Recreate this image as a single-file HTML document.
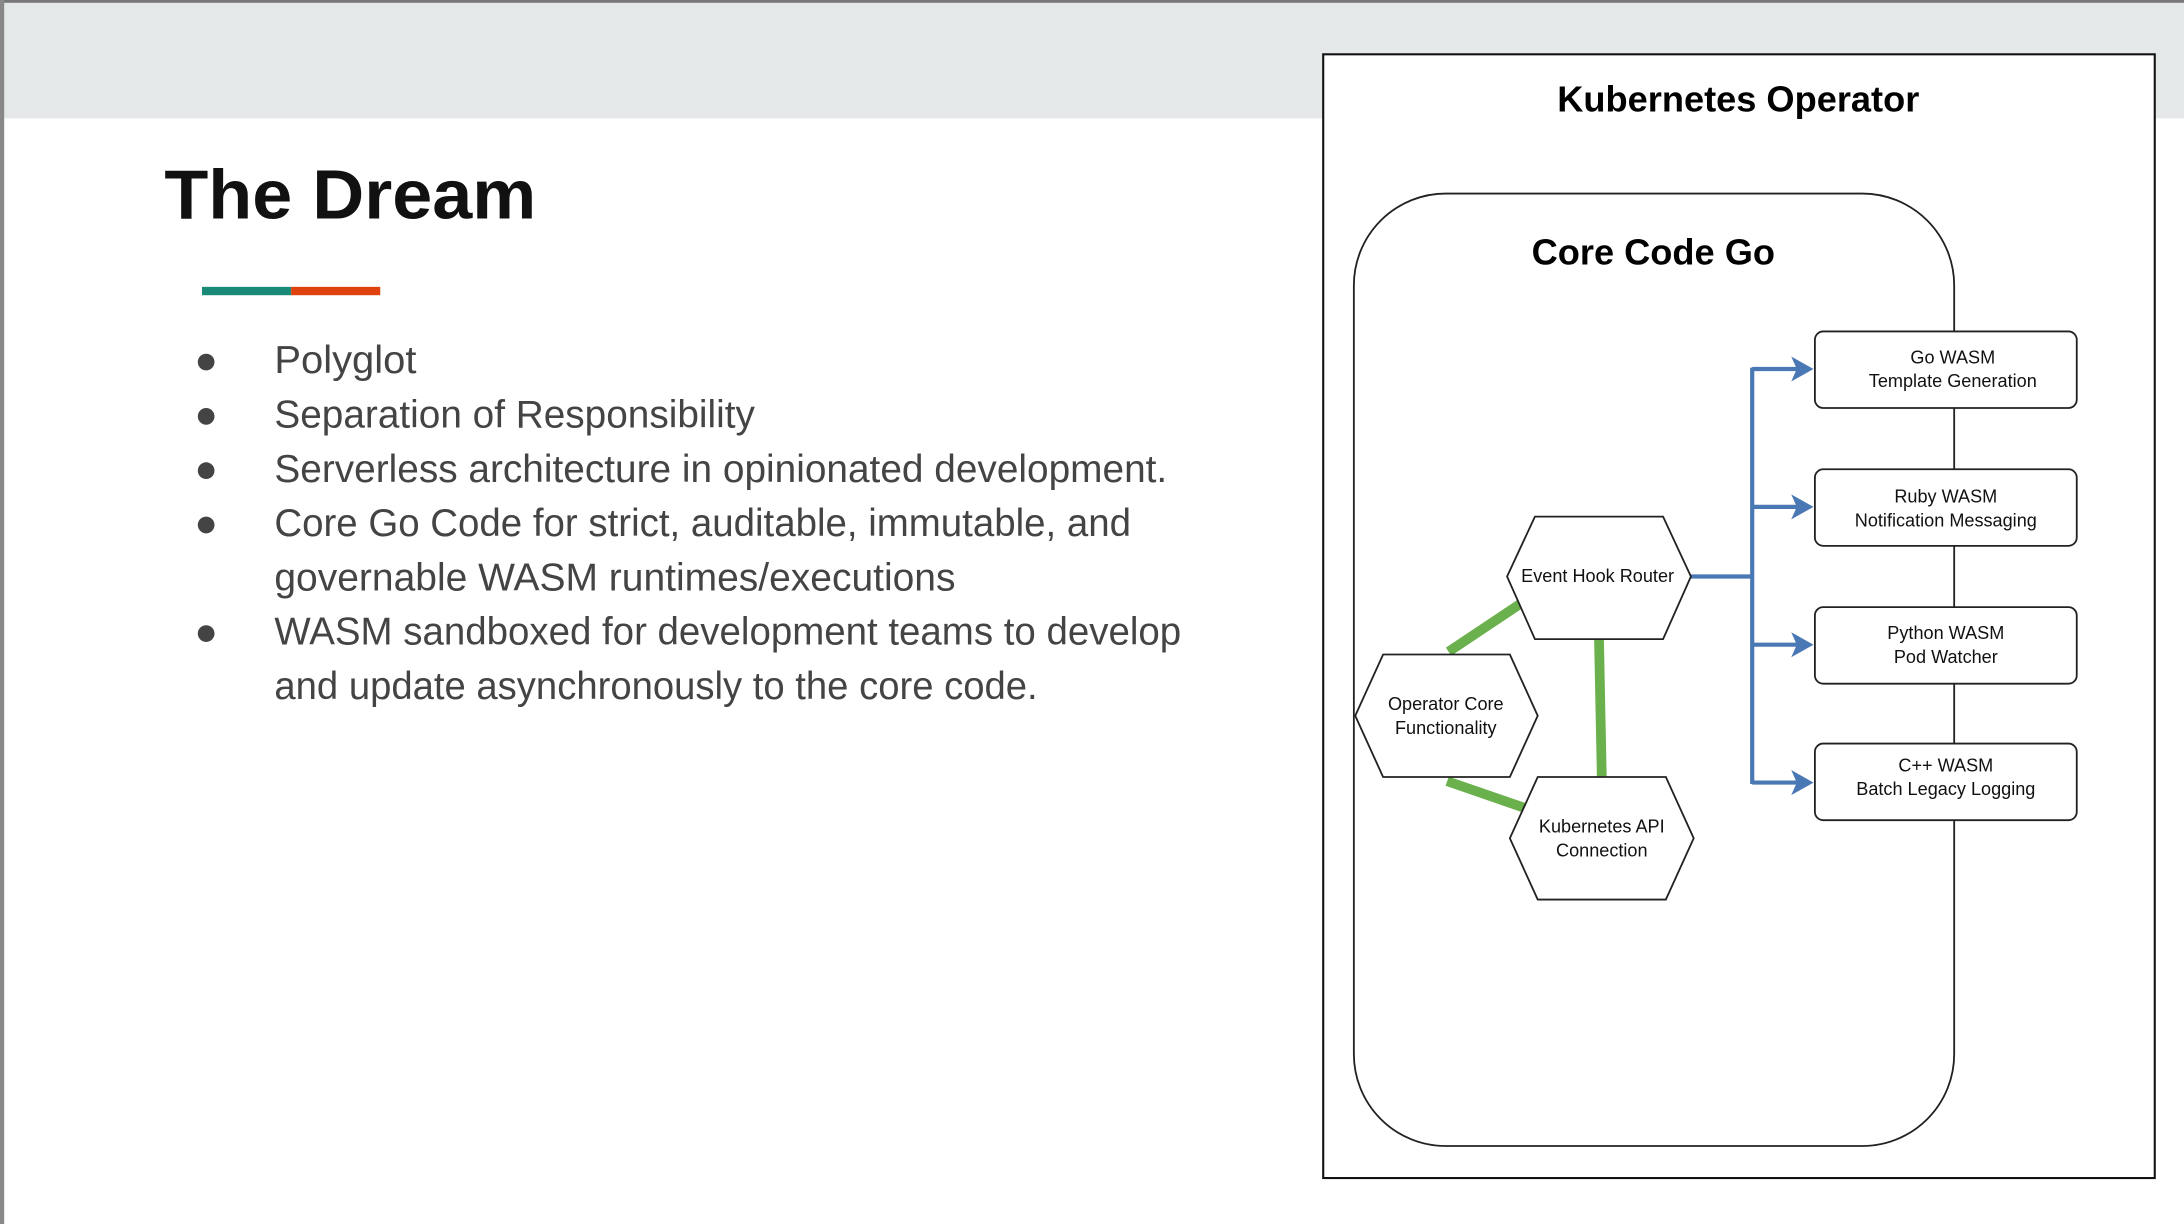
<!DOCTYPE html>
<html><head><meta charset="utf-8"><style>
html,body{margin:0;padding:0;background:#fff;}
svg{display:block;}
</style></head><body>
<svg width="2184" height="1224" viewBox="0 0 1568 879" preserveAspectRatio="none" xmlns="http://www.w3.org/2000/svg">
<rect x="0" y="0" width="1568" height="879" fill="#fff"/>
<rect x="0" y="0" width="1568" height="85" fill="#e4e8e8"/>
<rect x="0" y="0" width="1568" height="2" fill="#777"/>
<rect x="0" y="0" width="3" height="879" fill="#888"/>
<g font-family="'Liberation Sans',sans-serif">
<text x="118" y="157" font-size="50" font-weight="bold" fill="#111" textLength="267" lengthAdjust="spacingAndGlyphs">The Dream</text>
<rect x="145" y="206" width="64" height="6" fill="#1a8a78"/>
<rect x="209" y="206" width="64" height="6" fill="#e0420e"/>
<g fill="#444" font-size="28">
<circle cx="148" cy="260" r="6"/><circle cx="148" cy="299" r="6"/><circle cx="148" cy="338" r="6"/><circle cx="148" cy="377" r="6"/><circle cx="148" cy="455" r="6"/>
<text x="197" y="268" textLength="102" lengthAdjust="spacingAndGlyphs">Polyglot</text>
<text x="197" y="307" textLength="345" lengthAdjust="spacingAndGlyphs">Separation of Responsibility</text>
<text x="197" y="346" textLength="641" lengthAdjust="spacingAndGlyphs">Serverless architecture in opinionated development.</text>
<text x="197" y="385" textLength="615" lengthAdjust="spacingAndGlyphs">Core Go Code for strict, auditable, immutable, and</text>
<text x="197" y="424" textLength="489" lengthAdjust="spacingAndGlyphs">governable WASM runtimes/executions</text>
<text x="197" y="463" textLength="651" lengthAdjust="spacingAndGlyphs">WASM sandboxed for development teams to develop</text>
<text x="197" y="502" textLength="548" lengthAdjust="spacingAndGlyphs">and update asynchronously to the core code.</text>
</g>
<rect x="950" y="39" width="597" height="807" fill="#fff" stroke="#111" stroke-width="1.5"/>
<text x="1248" y="80" font-size="26" font-weight="bold" text-anchor="middle" fill="#000">Kubernetes Operator</text>
<rect x="972" y="139" width="431" height="684" rx="66" ry="66" fill="none" stroke="#222" stroke-width="1.3"/>
<text x="1187" y="190" font-size="26" font-weight="bold" text-anchor="middle" fill="#000">Core Code Go</text>
<g stroke="#6ab04c" stroke-width="7" fill="none">
<line x1="1040" y1="468" x2="1091" y2="434"/>
<line x1="1148" y1="459" x2="1150" y2="558"/>
<line x1="1039" y1="561" x2="1094" y2="580"/>
</g>
<g stroke="#4a78b5" stroke-width="3" fill="none">
<polyline points="1214,414 1258,414"/>
<line x1="1258" y1="264" x2="1258" y2="563"/>
<line x1="1258" y1="265" x2="1290" y2="265"/>
<line x1="1258" y1="364" x2="1290" y2="364"/>
<line x1="1258" y1="463" x2="1290" y2="463"/>
<line x1="1258" y1="562" x2="1290" y2="562"/>
</g>
<g fill="#4a78b5">
<polygon points="1302,265 1286,256 1290,265 1286,274"/>
<polygon points="1302,364 1286,355 1290,364 1286,373"/>
<polygon points="1302,463 1286,454 1290,463 1286,472"/>
<polygon points="1302,562 1286,553 1290,562 1286,571"/>
</g>
<g fill="#fff" stroke="#222" stroke-width="1.3">
<polygon points="1082,414 1102,371 1194,371 1214,414 1194,459 1102,459"/>
<polygon points="973,514 993,470 1084,470 1104,514 1084,558 993,558"/>
<polygon points="1084,602 1104,558 1196,558 1216,602 1196,646 1104,646"/>
<rect x="1303" y="238" width="188" height="55" rx="6"/>
<rect x="1303" y="337" width="188" height="55" rx="6"/>
<rect x="1303" y="436" width="188" height="55" rx="6"/>
<rect x="1303" y="534" width="188" height="55" rx="6"/>
</g>
<g font-size="13" fill="#111" text-anchor="middle">
<text x="1147" y="418">Event Hook Router</text>
<text x="1038" y="510">Operator Core</text><text x="1038" y="527">Functionality</text>
<text x="1150" y="598">Kubernetes API</text><text x="1150" y="615">Connection</text>
<text x="1402" y="261">Go WASM</text><text x="1402" y="278">Template Generation</text>
<text x="1397" y="361">Ruby WASM</text><text x="1397" y="378">Notification Messaging</text>
<text x="1397" y="459">Python WASM</text><text x="1397" y="476">Pod Watcher</text>
<text x="1397" y="554">C++ WASM</text><text x="1397" y="571">Batch Legacy Logging</text>
</g>
</g>
</svg>
</body></html>
